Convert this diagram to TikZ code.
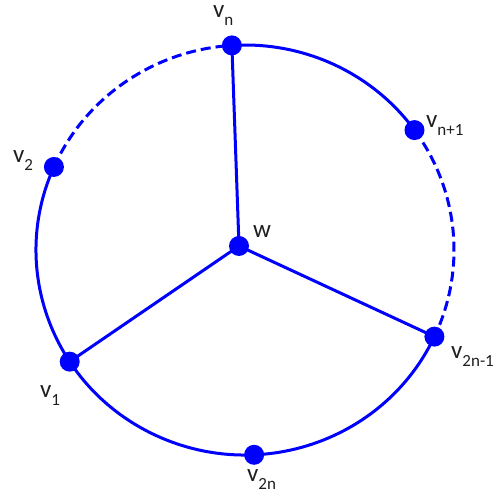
\documentclass[tikz,border=0pt]{standalone}
\usepackage{fontspec}
\setmainfont{Carlito}
\usetikzlibrary{calc}
\definecolor{edgeblue}{RGB}{0,0,255}
\definecolor{txt}{RGB}{30,30,30}
\newcommand\vlab[2]{#1\raisebox{-8pt}{\fontsize{17}{17}\selectfont #2}}
\begin{document}
\begin{tikzpicture}[x=1pt,y=1pt,
  edge/.style={draw=edgeblue,line width=3pt},
  dashedge/.style={edge,dash pattern=on 10pt off 5pt},
  vdot/.style={circle,fill=edgeblue,minimum size=20pt,inner sep=0pt},
  ell/.style={x radius=209pt,y radius=205pt},
  lbl/.style={anchor=base west,inner sep=0pt,text=txt,font=\fontsize{25}{25}\selectfont}]
\useasboundingbox (0,0) rectangle (496,495);
\coordinate (C) at (245,245);
\coordinate (vn) at ($(C)+(93.6:209pt and 205pt)$);
\coordinate (v2) at ($(C)+(156.1:209pt and 205pt)$);
\coordinate (v1) at ($(C)+(213:209pt and 205pt)$);
\coordinate (v2n) at ($(C)+(272.5:209pt and 205pt)$);
\coordinate (v2n1) at ($(C)+(335:209pt and 205pt)$);
\coordinate (vn1) at ($(C)+(35.8:209pt and 205pt)$);
\coordinate (w) at (239,249);
% arcs
\draw[dashedge] (v2) arc[ell,start angle=156.1,end angle=93.6];
\draw[edge] (vn) arc[ell,start angle=93.6,end angle=35.8];
\draw[dashedge] (vn1) arc[ell,start angle=35.8,end angle=-25];
\draw[edge] (v2n1) arc[ell,start angle=-25,end angle=-203.9];
% spokes
\draw[edge] (w) -- (vn);
\draw[edge] (w) -- (v1);
\draw[edge] (w) -- (v2n1);
% dots
\foreach \p in {vn,v2,v1,v2n,v2n1,vn1,w} \node[vdot] (d\p) at (\p) {};
% labels
\node[lbl] (lvn) at (213,477) {\vlab{v}{n}};
\node[lbl] (lv2) at (13,332) {\vlab{v}{2}};
\node[lbl] (lw) at (253,257) {w};
\node[lbl] (lvn1) at (426,367) {\vlab{v}{n+1}};
\node[lbl] (lv1) at (40,97) {\vlab{v}{1}};
\node[lbl] (lv2n1) at (451,136) {\vlab{v}{2n-1}};
\node[lbl] (lv2n) at (247,13) {\vlab{v}{2n}};
\end{tikzpicture}
\end{document}
